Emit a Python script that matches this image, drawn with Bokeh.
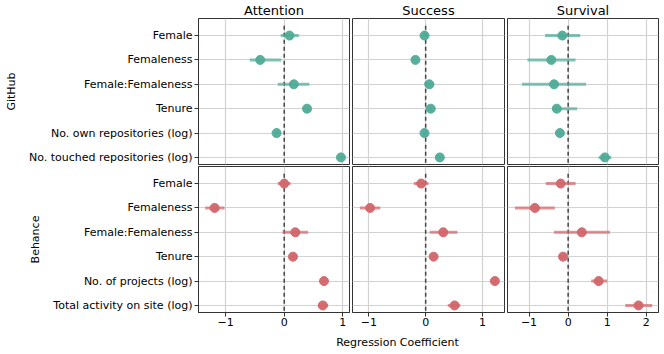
from bokeh.plotting import figure
from bokeh.layouts import gridplot, column
from bokeh.models import Range1d, FixedTicker, ColumnDataSource
from bokeh.core.properties import value
from bokeh.embed import file_html
from bokeh.resources import INLINE

# ---------------- data ----------------
gh_labels = ["Female", "Femaleness", "Female:Femaleness", "Tenure",
             "No. own repositories (log)", "No. touched repositories (log)"]
be_labels = ["Female", "Femaleness", "Female:Femaleness", "Tenure",
             "No. of projects (log)", "Total activity on site (log)"]

panels = ["Attention", "Success", "Survival"]

# GitHub
att_gh_coef = [0.09, -0.41, 0.165, 0.39, -0.13, 0.97]
att_gh_lo   = [-0.06, -0.59, -0.11, 0.36, -0.16, 0.94]
att_gh_hi   = [0.25, -0.05, 0.43, 0.42, -0.10, 1.00]

suc_gh_coef = [-0.02, -0.18, 0.065, 0.09, -0.02, 0.25]
suc_gh_lo   = [-0.05, -0.21, -0.02, 0.06, -0.05, 0.22]
suc_gh_hi   = [0.01, -0.15, 0.15, 0.12, 0.01, 0.28]

sur_gh_coef = [-0.15, -0.43, -0.36, -0.29, -0.21, 0.94]
sur_gh_lo   = [-0.59, -1.04, -1.18, -0.40, -0.28, 0.78]
sur_gh_hi   = [0.31, 0.19, 0.46, 0.23, -0.14, 1.10]

# Behance
att_be_coef = [0.00, -1.19, 0.19, 0.15, 0.68, 0.66]
att_be_lo   = [-0.11, -1.35, -0.03, 0.12, 0.65, 0.58]
att_be_hi   = [0.11, -1.02, 0.41, 0.18, 0.71, 0.75]

suc_be_coef = [-0.08, -0.98, 0.31, 0.14, 1.22, 0.51]
suc_be_lo   = [-0.21, -1.16, 0.07, 0.11, 1.19, 0.39]
suc_be_hi   = [0.05, -0.80, 0.56, 0.17, 1.25, 0.61]

sur_be_coef = [-0.19, -0.85, 0.35, -0.13, 0.78, 1.80]
sur_be_lo   = [-0.57, -1.36, -0.36, -0.20, 0.59, 1.46]
sur_be_hi   = [0.19, -0.34, 1.07, -0.06, 1.00, 2.15]

x_ticks = [[-1, 0, 1], [-1, 0, 1], [-1, 0, 1, 2]]
x_limits = [(-1.465, 1.116), (-1.29, 1.39), (-1.55, 2.31)]
y_limits = (5.29, -0.7)
zero_line_y = (-0.4, 5.6)
x_title = "Regression Coefficient"

rows_data = [
    ("GitHub", gh_labels, "#4eab97", [
        (att_gh_coef, att_gh_lo, att_gh_hi),
        (suc_gh_coef, suc_gh_lo, suc_gh_hi),
        (sur_gh_coef, sur_gh_lo, sur_gh_hi)]),
    ("Behance", be_labels, "#d2656a", [
        (att_be_coef, att_be_lo, att_be_hi),
        (suc_be_coef, suc_be_lo, suc_be_hi),
        (sur_be_coef, sur_be_lo, sur_be_hi)]),
]

FONT = "DejaVu Sans"
GRID = "#d2d2d2"
FRAME = "#333333"

frame_w = [151, 152, 151]
border_l = [198, 1, 1]
border_r = [2, 2, 2]
xranges = [Range1d(*lim) for lim in x_limits]

grid = []
for r, (row_name, labels, color, series) in enumerate(rows_data):
    ys = list(range(len(labels)))
    row_figs = []
    for c in range(3):
        coef, lo, hi = series[c]
        p = figure(frame_width=frame_w[c], frame_height=146,
                   x_range=xranges[c], y_range=Range1d(*y_limits),
                   output_backend="svg", toolbar_location=None,
                   min_border_left=border_l[c], min_border_right=border_r[c],
                   min_border_top=1,
                   min_border_bottom=(1 if r == 0 else 20))
        p.background_fill_color = "white"
        p.border_fill_color = "white"
        p.outline_line_color = FRAME
        p.outline_line_width = 1
        p.outline_line_alpha = 1

        if r == 0:
            p.title.text = panels[c]
            p.title.align = "center"
            p.title.text_font = FONT
            p.title.text_font_size = "13px"
            p.title.text_font_style = "normal"
            p.title.text_color = "black"
            p.title.standoff = 1
            p.title.offset = 0

        # grids
        p.xgrid.ticker = FixedTicker(ticks=x_ticks[c])
        p.ygrid.ticker = FixedTicker(ticks=ys)
        for g in (p.xgrid, p.ygrid):
            g.grid_line_color = GRID
            g.grid_line_width = 1.2

        # x axis
        xa = p.xaxis[0]
        if r == 0:
            xa.visible = False
        else:
            xa.ticker = FixedTicker(ticks=x_ticks[c])
            xa.major_label_overrides = {t: (("\u2212" + str(-t)) if t < 0 else str(t)) for t in x_ticks[c]}
            xa.major_label_text_font = FONT
            xa.major_label_text_font_size = "11px"
            xa.major_label_text_color = "black"
            xa.major_tick_out = 4
            xa.major_tick_in = 0
            xa.minor_tick_out = 0
            xa.minor_tick_in = 0
            xa.major_label_standoff = 1
            xa.axis_line_color = FRAME
            xa.major_tick_line_color = FRAME

        # y axis
        ya = p.yaxis[0]
        if c == 0:
            ya.ticker = FixedTicker(ticks=ys)
            ya.major_label_overrides = {i: lab for i, lab in zip(ys, labels)}
            ya.major_label_text_font = FONT
            ya.major_label_text_font_size = "11px"
            ya.major_label_text_color = "black"
            ya.major_tick_out = 4
            ya.major_tick_in = 0
            ya.minor_tick_out = 0
            ya.minor_tick_in = 0
            ya.major_label_standoff = 2
            ya.axis_line_color = FRAME
            ya.major_tick_line_color = FRAME
            ya.axis_label = row_name
            ya.axis_label_text_font = FONT
            ya.axis_label_text_font_size = "11px"
            ya.axis_label_text_font_style = "normal"
            ya.axis_label_text_color = "black"
            ya.axis_label_standoff = 8
        else:
            ya.visible = False

        # zero reference line
        p.segment(x0=0, x1=0, y0=zero_line_y[0], y1=zero_line_y[1],
                  line_color="#444444", line_width=1.5, line_dash="4 3")

        src = ColumnDataSource(dict(y=ys, coef=coef, lo=lo, hi=hi))
        p.segment(x0="lo", x1="hi", y0="y", y1="y", source=src,
                  line_color=color, line_width=3, line_alpha=0.7)
        p.scatter(x="coef", y="y", source=src, size=9,
                  fill_color=color, line_color=color, fill_alpha=0.95, line_alpha=0.95)
        row_figs.append(p)
    grid.append(row_figs)

# shared x-axis title in its own strip (pixel coordinates)
strip_w, strip_h = 660, 20
lab = figure(width=strip_w, height=strip_h, x_range=Range1d(0, strip_w),
             y_range=Range1d(strip_h, 0), output_backend="svg",
             toolbar_location=None, min_border=0,
             x_axis_location=None, y_axis_location=None)
lab.outline_line_color = None
lab.grid.visible = False
lab.text(x=[397], y=[3], text=[x_title], text_align="center", text_baseline="top",
         text_font=value(FONT), text_font_size="11px", text_color="black")

layout = column(gridplot(grid, toolbar_location=None), lab, spacing=0)
open("out.html", "w").write(file_html(layout, INLINE))
